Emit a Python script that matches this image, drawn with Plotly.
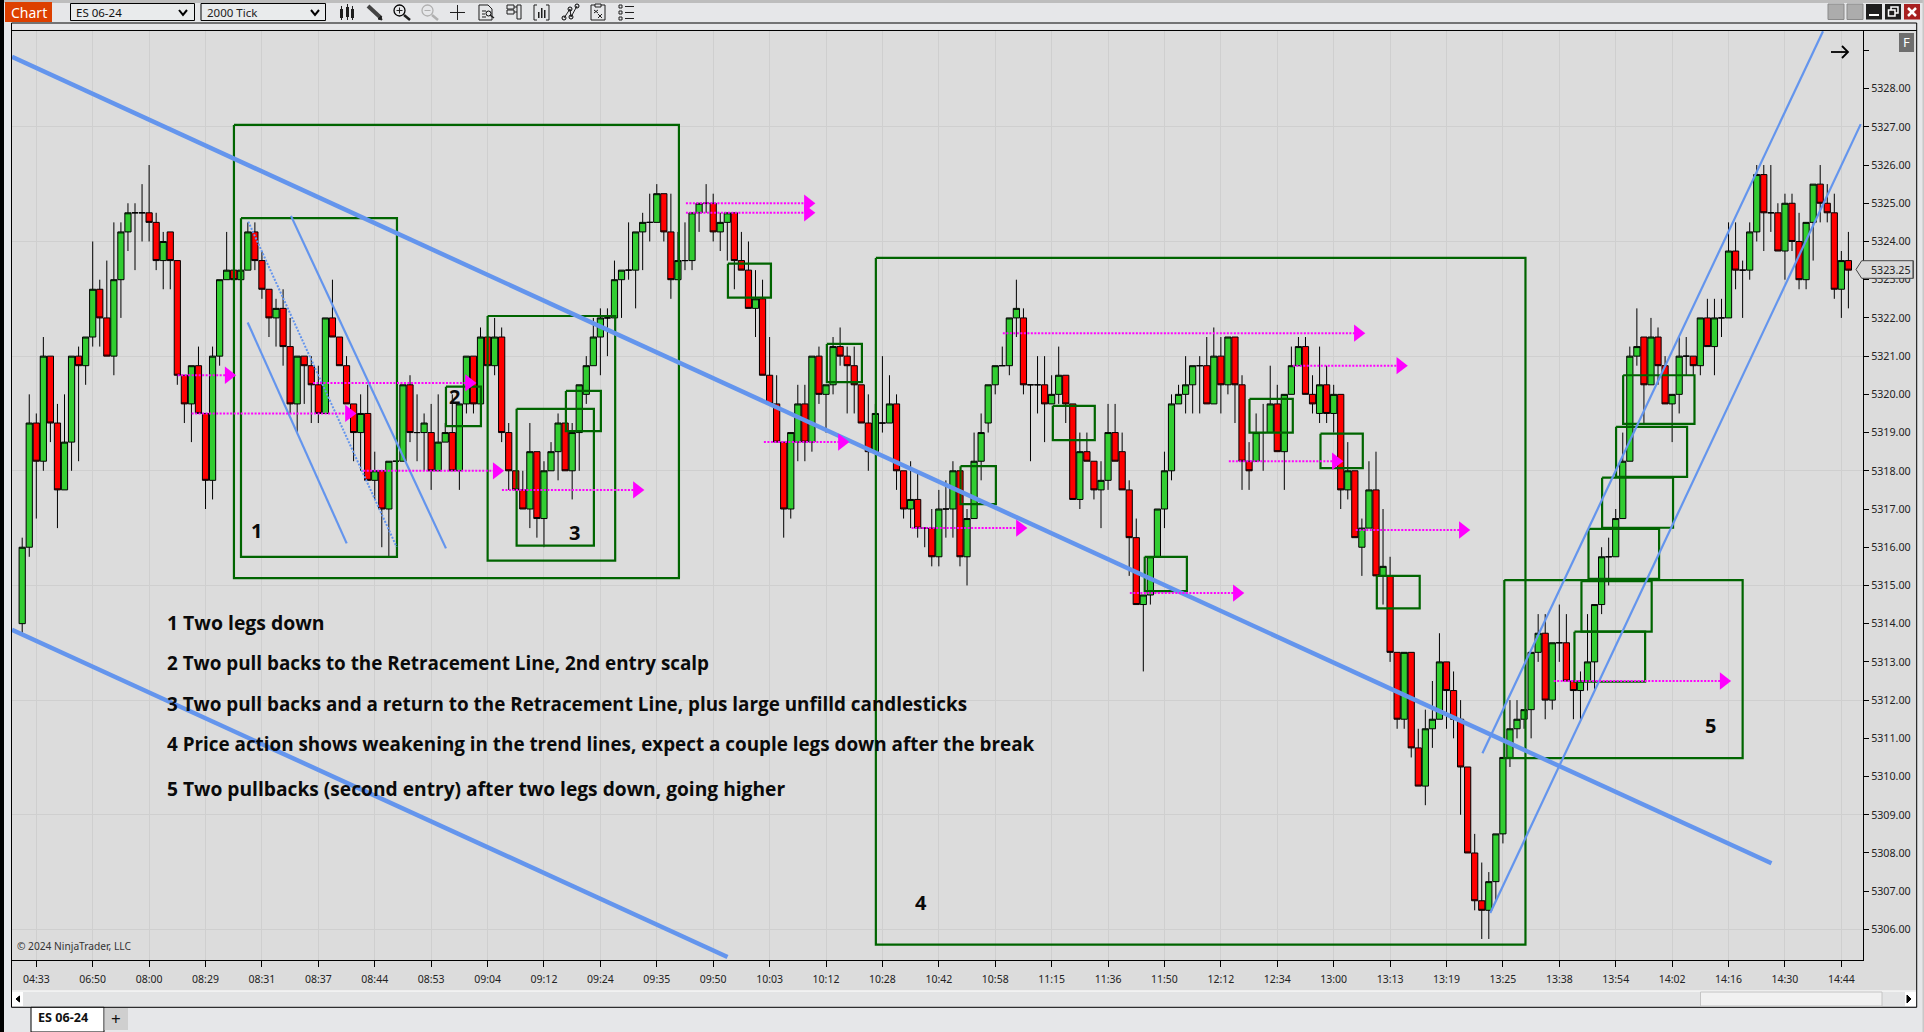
import numpy as np
import plotly.graph_objects as go

W = 1924
H = 1032
PRICE_BASE = 5300

# ES 06-24, 2000 tick bars, prices kept as offset from PRICE_BASE
bar_open = [14, 16, 19.25, 18.25, 21, 19.25, 17.5, 18.75, 21, 20.75,
            21.5, 22.75, 22, 21, 23, 24.25, 24.75, 24.75, 24.75, 24.5,
            23.5, 24.25, 23.5, 20.5, 19.75, 20.75, 19.5, 17.75, 21, 23,
            23.25, 23, 23.25, 24.25, 23.5, 22.75, 22, 22.25, 21.25, 19.75,
            21, 20.75, 20.25, 19.5, 22, 21.5, 20.75, 19.75, 19, 19.5,
            17.75, 18, 17, 18.25, 18.25, 20.25, 19, 19, 19, 18,
            18.75, 19, 18, 19.75, 21, 19.75, 21.5, 20.75, 21.5, 19,
            18, 17.5, 17, 18.5, 16.75, 18, 18.5, 19.25, 18, 19,
            20, 20.75, 21.5, 22, 22, 23, 23.25, 23.25, 24.25, 24.5,
            24.5, 25.25, 24.25, 23, 23.5, 23.5, 24.75, 25, 25, 24.25,
            24.5, 24.75, 23.5, 23.25, 22.25, 22.5, 20.5, 19.75, 18.75, 17,
            18.75, 19.75, 18.75, 21, 20, 20.25, 21.25, 21, 20.75, 20.25,
            19.25, 18.5, 19.25, 19.25, 19.75, 18, 17, 17.25, 16.5, 16.5,
            15.75, 17, 17, 18, 15.75, 16.75, 18.25, 19.25, 20.25, 20.75,
            20.75, 22, 22, 20.25, 20.25, 20.25, 19.75, 20, 20.5, 19.75,
            17.25, 18.5, 18.25, 17.5, 17.75, 19, 18.5, 17.5, 16.25, 14.5,
            14.75, 15.75, 17, 18, 19.75, 20, 20.25, 20.75, 20.75, 19.75,
            21, 20.25, 21.5, 20.25, 18.25, 18.25, 19, 19, 19.75, 18.5,
            20, 20.75, 21.25, 20, 19.5, 20.25, 19.5, 20, 17.5, 18,
            16, 16.5, 17.5, 15.25, 15.25, 13.25, 11.5, 13.25, 10.75, 9.75,
            11.25, 11.5, 13, 12.25, 11.5, 10.25, 8, 6.75, 6.5, 7.25,
            8.5, 10.5, 11.25, 11.5, 11.75, 13.25, 13.75, 12, 13.5, 13.5,
            12.5, 12.25, 12.5, 13, 14.5, 15.75, 15.75, 16.75, 18.25, 21,
            21.5, 20.25, 21.5, 20.75, 19.75, 20, 21, 21, 20.75, 22,
            21.25, 22, 22, 23.75, 23.25, 23.25, 24.25, 25.75, 24.75, 24.75,
            23.75, 25, 24, 23, 24.5, 25.5, 25, 24.75, 22.75, 23.5]
bar_high = [16.25, 20, 19.5, 21.5, 21, 19.75, 20, 21, 21.25, 21.5,
            24, 23, 23.5, 24.5, 24.5, 25, 25, 25.5, 26, 24.75,
            24.25, 24.25, 23.5, 20.5, 20.75, 21.25, 19.5, 21.25, 23, 24.25,
            23.25, 23.25, 24.5, 24.5, 23.75, 22.75, 22.5, 22.75, 22, 21,
            21, 21, 20.75, 22, 23, 21.5, 21, 19.75, 20, 20.25,
            18.5, 18, 18.25, 18.25, 20.25, 20.5, 20, 19.5, 19.75, 20,
            19.25, 20, 19.75, 21, 21, 21.75, 21.5, 22, 21.75, 19.25,
            18, 18, 19.25, 18.5, 18.25, 18.75, 19.5, 19.25, 19.25, 20.25,
            21, 22, 22.25, 22.25, 23.5, 23.25, 24.5, 24.25, 24.75, 25.25,
            25.5, 25.25, 25.25, 24.25, 24.5, 24.75, 25, 25.5, 25.25, 24.75,
            24.75, 24.75, 24.25, 24, 23.25, 23, 21.5, 20.5, 18.75, 19,
            20.25, 20.25, 21, 21.25, 20.25, 21.5, 21.75, 21.25, 21.25, 20.25,
            20, 19.75, 21, 20.5, 20, 18, 18.25, 18, 16.5, 17,
            17.5, 17.75, 18.25, 18, 17, 19, 19.5, 20.25, 20.75, 21.25,
            22, 23, 22.25, 20.25, 21, 21, 20.5, 21.25, 20.5, 19.75,
            19, 19, 18.25, 18.25, 19.75, 19.75, 19, 17.75, 16.75, 14.75,
            15.75, 17, 18.5, 20, 20.25, 21, 20.75, 21, 21.5, 21.75,
            21.5, 21.5, 21.5, 20.5, 18.75, 19.5, 19.75, 20.75, 20.25, 20,
            21.25, 21.5, 21.5, 20.5, 21.25, 20.75, 20.25, 20, 18.75, 18,
            16.75, 18.25, 18.5, 17, 15.75, 13.25, 13.25, 13.25, 11.25, 11.75,
            12.5, 13.75, 13, 12.75, 12, 10.25, 8.5, 7.75, 7.5, 8.5,
            10.5, 12, 12, 11.75, 13.25, 14.25, 14.25, 13.5, 14.5, 14.25,
            12.5, 12.75, 14.25, 14.5, 16, 16.25, 17, 19, 21.25, 22.25,
            21.5, 22, 21.75, 21, 20, 21.5, 21.5, 21, 22, 22.5,
            22.5, 22.5, 24.5, 24.5, 23.5, 24.5, 26, 26, 26, 25,
            25.25, 25.25, 24.75, 24.5, 25.5, 26, 25.5, 25.25, 23.75, 24.25]
bar_low = [13.75, 15.75, 16.75, 18, 18.75, 16.5, 17.5, 18, 18.25, 20.25,
           21.25, 21.25, 21, 20.5, 22, 23.75, 23.25, 24, 24, 23.25,
           22.75, 22.75, 20.25, 19.25, 18.75, 19.5, 17, 17.25, 20.75, 23,
           23, 23, 23.25, 23.25, 22.5, 21.5, 21.25, 20.75, 19.5, 19,
           19.75, 19.25, 19.25, 19.5, 21.5, 20.75, 19.75, 18.25, 18, 17.75,
           17.25, 16, 15.75, 18.25, 18.25, 18.75, 18.25, 18, 17.5, 18,
           18.75, 18, 17.5, 19.5, 19.5, 19.75, 20.75, 20.5, 18.75, 17.5,
           17.5, 17, 16.5, 16.25, 16, 18, 17.75, 18, 17.25, 18,
           19.75, 20.75, 20.5, 21, 22, 22, 23, 22.25, 23.25, 24,
           24.5, 24, 22.5, 23, 23.25, 23.25, 24.25, 24.75, 24, 23.75,
           23.5, 22.75, 23.25, 22.25, 21.5, 20.5, 19.75, 18.75, 16.25, 16.75,
           18.25, 18.25, 18.5, 19.75, 19, 20, 20.75, 19.5, 19.5, 19.25,
           18, 18.5, 19, 19.25, 17.5, 16.75, 16.5, 16.25, 16, 15.5,
           15.5, 16.25, 16.25, 15.5, 15, 16.75, 17.75, 19, 20, 20.75,
           20.5, 21.5, 20, 18.25, 19.5, 18.75, 19.75, 19.75, 19.25, 17.25,
           17, 18.25, 17.25, 16.5, 17.5, 18.25, 17.5, 15.25, 14.5, 12.75,
           14.5, 15.75, 16.5, 17.75, 19.75, 19.5, 19.5, 19.5, 19.75, 19.75,
           19.5, 20, 19.25, 17.5, 17.5, 18.25, 18, 19, 18.5, 17.5,
           20, 20.75, 20, 19.5, 19.25, 19.25, 19, 17, 17.25, 16.25,
           15.25, 16.5, 15.25, 14.5, 13, 11.25, 11.25, 10.5, 9.75, 9.25,
           10.75, 11.5, 11.25, 11, 9, 8, 6.5, 5.75, 5.75, 6.75,
           8.25, 10.25, 11, 11.25, 11, 13, 11.5, 11.75, 13, 12.5,
           11.5, 11.5, 12.25, 12.25, 14.25, 15, 15.75, 16.75, 18.25, 20.75,
           19.25, 20.25, 20.25, 19.75, 18.75, 19.5, 20.5, 20.5, 20.5, 21.25,
           20.5, 21.5, 22, 22.75, 22, 23, 24, 23.75, 24.25, 23.75,
           23, 23.75, 22.75, 22.75, 23.5, 24.5, 24.5, 22.5, 22, 22.25]
bar_close = [16, 19.25, 18.25, 21, 19.25, 17.5, 18.75, 21, 20.75, 21.5,
             22.75, 22, 21, 23, 24.25, 24.75, 24.75, 24.75, 24.5, 23.5,
             24, 23.5, 20.5, 19.75, 20.75, 19.5, 17.75, 21, 23, 23.25,
             23, 23.25, 24.25, 23.5, 22.75, 22, 22.25, 21.25, 19.75, 21,
             20.75, 20.25, 19.5, 22, 21.5, 20.75, 19.75, 19, 19.5, 17.75,
             18, 17, 18.25, 18.25, 20.25, 19, 19, 19.25, 18, 18.75,
             19, 18, 19.75, 21, 19.75, 21.5, 20.75, 21.5, 19, 18,
             17.5, 17, 18.5, 16.75, 18, 18.5, 19.25, 18, 19, 20.25,
             20.75, 21.5, 22, 22, 23, 23.25, 23.25, 24.25, 24.5, 24.5,
             25.25, 24.25, 23, 23.5, 23.5, 24.75, 25, 25, 24.25, 24.5,
             24.75, 23.5, 23.25, 22.25, 22.5, 20.5, 19.75, 18.75, 17, 19,
             19.75, 18.75, 21, 20, 20.25, 21.25, 21, 20.75, 20.25, 19.25,
             18.5, 19.5, 19.25, 19.75, 18, 17, 17.25, 16.5, 16.5, 15.75,
             17, 17, 18, 15.75, 16.75, 18.25, 19, 20.25, 20.75, 20.75,
             22, 22.25, 20.25, 20.25, 20.25, 19.75, 20, 20.5, 19.75, 17.25,
             18.5, 18.25, 17.5, 17.75, 19, 18.25, 17.5, 16.25, 14.5, 14.75,
             15.75, 17, 18, 19.75, 20, 20.25, 20.75, 20.75, 19.75, 21,
             20.25, 21.5, 20.25, 18.25, 18, 19, 19, 19.75, 18.5, 20,
             20.75, 21.25, 20, 19.75, 20.25, 19.5, 20, 17.5, 18, 16.25,
             16.5, 17.5, 15.25, 15.5, 13.25, 11.5, 13.25, 10.75, 9.75, 11.25,
             11.5, 13, 12.25, 11.5, 10.25, 8, 6.75, 6.5, 7.25, 8.5,
             10.5, 11.25, 11.5, 11.75, 13.25, 13.75, 12, 13.5, 13.5, 12.5,
             12.25, 12.5, 13, 14.5, 15.75, 15.75, 16.75, 18.25, 21, 21.25,
             20.25, 21.5, 20.75, 19.75, 20, 21, 21, 20.75, 22, 21.25,
             22, 22, 23.75, 23.25, 23.25, 24.25, 25.75, 24.75, 24.75, 23.75,
             25, 24, 23, 24.5, 25.5, 25, 24.75, 22.75, 23.5, 23.25]

time_labels = ["04:33", "06:50", "08:00", "08:29", "08:31", "08:37", "08:44", "08:53", "09:04",
               "09:12", "09:24", "09:35", "09:50", "10:03", "10:12", "10:28", "10:42", "10:58",
               "11:15", "11:36", "11:50", "12:12", "12:34", "13:00", "13:13", "13:19", "13:25",
               "13:38", "13:54", "14:02", "14:16", "14:30", "14:44"]
time_bars = [2 + 8 * i for i in range(len(time_labels))]
price_ticks = list(range(5306, 5330))
price_labels = ["%.2f" % p if p < 5329 else "" for p in price_ticks]
grid_prices = list(range(5306, 5330, 3))
last_price = 5323.25

# drawing objects, in bar index / price
# green boxes: first bar, last bar, top price, bottom price
box_bar0 = [30.03, 31.03, 60.1, 66.01, 70.12, 77.11, 100.09, 114.12, 121.07, 133.08, 146.17,
            159.2, 174.06, 184.13, 192.12, 210.2, 221.14, 220.15, 222.14, 224.07, 226.05, 227.05]
box_bar1 = [93.14, 53.15, 65.06, 84.1, 81.08, 82.07, 106.19, 119.09, 213.2, 138.09, 152.12,
            165.18, 180.2, 190.13, 198.2, 244.0, 231.1, 230.17, 232.15, 234.13, 236.12, 237.17]
box_top = [5327.05, 5324.61, 5320.2, 5322.05, 5319.62, 5320.09, 5323.42, 5321.32, 5323.57, 5318.12, 5319.7,
           5315.75, 5319.88, 5318.97, 5315.25, 5315.14, 5315.11, 5313.79, 5316.48, 5317.82, 5319.15, 5320.5]
box_bottom = [5315.19, 5315.75, 5319.17, 5315.65, 5316.04, 5319.04, 5322.53, 5320.32, 5305.6, 5317.13, 5318.8,
              5314.85, 5319.0, 5318.07, 5314.4, 5310.48, 5313.79, 5312.48, 5315.17, 5316.51, 5317.84, 5319.23]

# magenta arrows: start bar, end bar, price
arrow_bar0 = [22.05, 24.03, 41.24, 48.37, 68.04, 94.13, 94.13, 105.19, 126.14, 139.08, 180.2, 157.09, 171.13, 189.13, 217.2]
arrow_bar1 = [29.28, 46.34, 63.36, 67.29, 87.18, 111.43, 111.43, 116.25, 141.5, 189.42, 195.45, 172.26, 186.3, 204.31, 241.3]
arrow_price = [5320.5, 5319.5, 5320.3, 5318, 5317.5, 5325, 5324.75, 5318.75, 5316.5, 5321.6, 5320.75, 5314.8, 5318.25, 5316.45, 5312.5]

# trend lines: start bar, start price, end bar, end price
thick_lines = [(-1.45, 5328.83, 248.09, 5307.73), (-1.45, 5313.84, 100.03, 5305.28)]
thin_lines = [(31.98, 5321.88, 46.02, 5316.1), (38.12, 5324.67, 60.1, 5315.97),
              (207.1, 5310.61, 255.4, 5329.5), (208.2, 5306.43, 260.75, 5327.07)]
dotted_lines = [(32.06, 5324.52, 53.1, 5316.01)]

note_texts = ["1 Two legs down",
              "2 Two pull backs to the Retracement Line, 2nd entry scalp",
              "3 Two pull backs and a return to the Retracement Line, plus large unfilld candlesticks",
              "4 Price action shows weakening in the trend lines, expect a couple legs down after the break",
              "5 Two pullbacks (second entry) after two legs down, going higher"]
box_numbers = ["1", "2", "3", "4", "5"]


def px(x):
    return x / W


def py(y):
    return 1 - y / H


def rect(x0, y0, x1, y1, fill="rgba(0,0,0,0)", line="rgba(0,0,0,0)", lw=1, layer="above"):
    return dict(type="rect", xref="paper", yref="paper", x0=px(x0), x1=px(x1), y0=py(y0), y1=py(y1),
                fillcolor=fill, line=dict(color=line, width=lw), layer=layer)


def ring(x0, y0, x1, y1, line="black", lw=1.3):
    shape = rect(x0, y0, x1, y1, line=line, lw=lw)
    shape["type"] = "circle"
    return shape


def poly(points, line="black", lw=1.0, fill=None, close=False):
    d = "M" + " L".join("%.5f,%.5f" % (px(a), py(b)) for a, b in points)
    if close:
        d += " Z"
    return dict(type="path", xref="paper", yref="paper", path=d, layer="above",
                fillcolor=fill if fill else "rgba(0,0,0,0)", line=dict(color=line, width=lw))


def label(x, y, text, size=11, color="#1a1a1a", family="Noto Sans", anchor="left"):
    return dict(xref="paper", yref="paper", x=px(x), y=py(y), text=text, showarrow=False,
                xanchor=anchor, yanchor="middle", font=dict(family=family, size=size, color=color),
                borderpad=0, borderwidth=0)


fig = go.Figure()

bars = list(range(len(bar_open)))
fig.add_trace(go.Candlestick(
    x=bars,
    open=np.array(bar_open) + PRICE_BASE,
    high=np.array(bar_high) + PRICE_BASE,
    low=np.array(bar_low) + PRICE_BASE,
    close=np.array(bar_close) + PRICE_BASE,
    increasing=dict(fillcolor="#32CD32", line=dict(color="black", width=1)),
    decreasing=dict(fillcolor="#FF0000", line=dict(color="black", width=1)),
    whiskerwidth=0,
    hoverinfo="skip",
    showlegend=False,
))

for i in range(len(box_bar0)):
    fig.add_trace(go.Scatter(
        x=[box_bar0[i], box_bar1[i], box_bar1[i], box_bar0[i], box_bar0[i]],
        y=[box_top[i], box_top[i], box_bottom[i], box_bottom[i], box_top[i]],
        mode="lines", line=dict(color="#006400", width=2.2), hoverinfo="skip", showlegend=False))

for seg in thick_lines:
    fig.add_trace(go.Scatter(x=[seg[0], seg[2]], y=[seg[1], seg[3]], mode="lines",
                             line=dict(color="#6495ED", width=4.5), hoverinfo="skip", showlegend=False))
for seg in thin_lines:
    fig.add_trace(go.Scatter(x=[seg[0], seg[2]], y=[seg[1], seg[3]], mode="lines",
                             line=dict(color="#6495ED", width=2.2), hoverinfo="skip", showlegend=False))
for seg in dotted_lines:
    fig.add_trace(go.Scatter(x=[seg[0], seg[2]], y=[seg[1], seg[3]], mode="lines",
                             line=dict(color="#6495ED", width=2, dash="2px,1.5px"), hoverinfo="skip", showlegend=False))

for i in range(len(arrow_price)):
    fig.add_trace(go.Scatter(x=[arrow_bar0[i], arrow_bar1[i]], y=[arrow_price[i], arrow_price[i]], mode="lines",
                             line=dict(color="#FF00FF", width=2, dash="2px,1.5px"), hoverinfo="skip", showlegend=False))
fig.add_trace(go.Scatter(x=arrow_bar1, y=arrow_price, mode="markers",
                         marker=dict(symbol="triangle-right", color="#FF00FF", size=15), hoverinfo="skip",
                         showlegend=False))

shapes = []
annotations = []

# window frame
shapes.append(rect(0, 0, W, 3, fill="#BDBDBD"))
shapes.append(rect(0, 0, 4, H, fill="black"))
shapes.append(rect(1922.5, 0, W, H, fill="#C8C8C8"))
# space right of the plot and under it, kept under the axis labels
shapes.append(rect(1863, 30, 1917, 991, fill="#DCDCDC", layer="below"))
shapes.append(rect(12, 960, 1917, 991, fill="#DCDCDC", layer="below"))
shapes.append(rect(12, 991, 1917, 1007, fill="#E3E4E5"))
shapes.append(rect(12, 990.5, 1917, 991.5, fill="white"))
shapes.append(poly([(11.5, 23), (1916.7, 23), (1916.7, 1007.3), (11.5, 1007.3)], close=True, lw=1))
shapes.append(poly([(11.5, 30.5), (1916.7, 30.5)], lw=1))

# top toolbar
shapes.append(rect(5, 2, 52, 22, fill="#DD4000"))
annotations.append(label(11, 12, "Chart", size=14, color="white"))
shapes.append(rect(70.5, 3.5, 194.5, 20.5, fill="#E9EBEC", line="black", lw=1))
annotations.append(label(76, 12, "ES 06-24", size=11.5, color="#111111"))
shapes.append(poly([(179, 10), (183, 15), (187, 10)], lw=2))
shapes.append(rect(201, 3.5, 325.5, 20.5, fill="#E9EBEC", line="black", lw=1))
annotations.append(label(207, 12, "2000 Tick", size=11.5, color="#222222"))
shapes.append(poly([(311, 10), (315, 15), (319, 10)], lw=2))

# toolbar icons
ic = "#1e1e1e"
shapes += [rect(340, 9, 343, 18, fill=ic), rect(346, 7, 349, 17, fill=ic), rect(351, 9, 354, 18, fill=ic),
           poly([(341.5, 6), (341.5, 20), ], line=ic), poly([(347.5, 4), (347.5, 20)], line=ic),
           poly([(352.5, 6), (352.5, 20)], line=ic)]
shapes += [poly([(368, 6), (381, 18)], line="#444444", lw=4), poly([(378, 19), (382, 20), (381, 16)], line=ic, fill=ic, close=True)]
shapes += [ring(394, 5, 405, 16), poly([(396.5, 10.5), (402.5, 10.5)], line=ic), poly([(399.5, 7.5), (399.5, 13.5)], line=ic),
           poly([(404, 15), (410, 20)], line=ic, lw=2.5)]
shapes += [ring(422, 5, 433, 16, line="#B0B0B0"), poly([(424.5, 10.5), (430.5, 10.5)], line="#B0B0B0"),
           poly([(432, 15), (438, 20)], line="#B0B0B0", lw=2.5)]
shapes += [poly([(450, 12.5), (465, 12.5)], line=ic), poly([(457.5, 5), (457.5, 20)], line=ic)]
shapes += [poly([(479, 20), (479, 5), (488, 5), (492, 9), (492, 20)], line=ic, close=True),
           poly([(482, 11), (486, 11)], line=ic), poly([(482, 14), (485, 14)], line=ic), poly([(482, 17), (486, 17)], line=ic),
           ring(486, 11, 491, 16, lw=1), poly([(490, 15), (494, 18)], line=ic, lw=1.5)]
shapes += [rect(507, 5, 514, 9, line=ic), rect(507, 10, 514, 14, line=ic), rect(517, 5, 521, 19, line=ic),
           poly([(514, 7), (517, 7)], line=ic), poly([(514, 12), (517, 12)], line=ic)]
shapes += [poly([(537, 5), (534, 5), (534, 20), (537, 20)], line=ic), poly([(546, 5), (549, 5), (549, 20), (546, 20)], line=ic),
           rect(538, 12, 539.5, 18, fill=ic), rect(541, 8, 542.5, 18, fill=ic), rect(544, 10, 545.5, 18, fill=ic)]
shapes += [poly([(564, 18), (570, 9), (571, 17), (577, 6)], line=ic), ring(562, 16, 566, 20, lw=1), ring(568, 7, 572, 11, lw=1),
           ring(569, 15, 573, 19, lw=1), ring(575, 4, 579, 8, lw=1)]
shapes += [rect(591, 5, 605, 20, line=ic), rect(595, 4, 601, 7, fill="#E6E7E9", line=ic),
           poly([(594, 10), (598, 13)], line=ic), poly([(598, 10), (594, 13)], line=ic),
           poly([(598, 14), (602, 18)], line=ic), poly([(602, 14), (598, 18)], line=ic)]
shapes += [rect(619, 5, 622, 8, line=ic), rect(619, 11, 622, 14, line=ic), rect(619, 17, 622, 20, line=ic),
           poly([(625, 6.5), (634, 6.5)], line=ic), poly([(625, 12.5), (634, 12.5)], line=ic), poly([(625, 18.5), (634, 18.5)], line=ic)]

# window buttons
shapes.append(rect(1828, 4, 1844, 19.5, fill="#ACACAC", line="#8A8A8A"))
shapes.append(rect(1847, 4, 1863, 19.5, fill="#ACACAC", line="#8A8A8A"))
shapes.append(rect(1866, 4, 1882, 19.5, fill="#1E1E1E"))
shapes.append(rect(1869, 14, 1879, 16, fill="white"))
shapes.append(rect(1885, 4, 1901, 19.5, fill="#1E1E1E"))
shapes.append(rect(1891, 7, 1898, 13, line="white", lw=1.5))
shapes.append(rect(1888.5, 10, 1895, 16, fill="#1E1E1E", line="white", lw=1.5))
shapes.append(rect(1904, 4, 1920, 19.5, fill="#A82020"))
shapes.append(poly([(1908, 8), (1916, 16)], line="white", lw=2.5))
shapes.append(poly([(1916, 8), (1908, 16)], line="white", lw=2.5))

# chart corner furniture
shapes.append(rect(1899, 33, 1914, 52, fill="#6E6E6E"))
annotations.append(label(1906.5, 42.5, "F", size=13, color="white", anchor="center"))
shapes.append(poly([(1831, 52), (1848, 52)], lw=1.8))
shapes.append(poly([(1842, 46), (1848, 52), (1842, 58)], lw=1.8))
annotations.append(label(17, 946, "© 2024 NinjaTrader, LLC", size=10.2, color="#333333"))

# current price tag
shapes.append(poly([(1856, 269.5), (1861.7, 260.7), (1913.3, 260.7), (1913.3, 278.3), (1861.7, 278.3)],
                   line="#444444", lw=1, fill="#D8D8D8", close=True))
shapes.append(rect(1912.5, 260.7, 1914, 278.3, fill="#555555"))
annotations.append(label(1871, 270, "%.2f" % last_price, size=10.7, color="#222222"))

# bottom tab strip and scrollbar
shapes.append(rect(1700.5, 992, 1882, 1006, fill="#F1F1F1", line="#C4C4C4"))
shapes.append(rect(12, 992, 23, 1006, fill="white"))
shapes.append(poly([(19.5, 996), (16, 999), (19.5, 1002)], fill="black", close=True))
shapes.append(rect(1905, 992, 1916, 1006, fill="white"))
shapes.append(poly([(1907, 995), (1911, 999), (1907, 1003)], fill="black", close=True))
shapes.append(rect(31, 1007.3, 104, H, fill="white", line="black", lw=1))
annotations.append(label(38, 1017, "<b>ES 06-24</b>", size=12.6, color="#111111"))
shapes.append(rect(104.5, 1008, 128, 1030, fill="#CFCFCF"))
annotations.append(label(116, 1018.5, "+", size=17, color="#111111", anchor="center"))

# text written on the chart
note_y = [622, 662.5, 704, 743.5, 788]
note_size = [19.4, 18.85, 18.85, 18.85, 19.2]
for text, y, size in zip(note_texts, note_y, note_size):
    annotations.append(label(167, y, "<b>%s</b>" % text, size=size, color="#0A0A0A", family="Open Sans"))
number_xy = [(256.5, 530), (454.5, 396.7), (574.5, 532.3), (920.5, 902), (1710, 725)]
for text, (x, y) in zip(box_numbers, number_xy):
    annotations.append(label(x, y, "<b>%s</b>" % text, size=20, color="#0A0A0A", family="Open Sans", anchor="center"))

fig.update_layout(
    width=W, height=H, margin=dict(l=0, r=0, t=0, b=0, pad=0, autoexpand=False),
    paper_bgcolor="#E6E7E9", plot_bgcolor="#DCDCDC",
    boxgap=0.12, boxgroupgap=0,
    shapes=shapes, annotations=annotations, showlegend=False, hovermode=False,
    xaxis=dict(
        domain=[12 / W, 1863 / W], range=[-1.446, 261.07], rangeslider=dict(visible=False),
        tickmode="array", tickvals=time_bars, ticktext=time_labels, ticks="outside", ticklen=6,
        tickcolor="black", tickfont=dict(family="Noto Sans", size=10.5, color="#222222"),
        ticklabelstandoff=3,
        showgrid=True, gridcolor="#CFCFCF", gridwidth=1, zeroline=False,
        showline=True, mirror=True, linecolor="black", linewidth=1,
    ),
    yaxis=dict(
        domain=[1 - 960 / H, 1 - 30.5 / H], range=[5305.2, 5329.52], side="right",
        tickmode="array", tickvals=price_ticks, ticktext=price_labels, ticks="outside", ticklen=5,
        tickcolor="black", tickfont=dict(family="Noto Sans", size=10.7, color="#222222"),
        showgrid=False, zeroline=False, showline=True, mirror=True, linecolor="black", linewidth=1,
        minor=dict(tickmode="array", tickvals=grid_prices, showgrid=True, gridcolor="#CFCFCF", gridwidth=1, ticks=""),
    ),
)

# the page's default body margin would shift the whole window by 8px
fig.write_html("out.html", config={"displayModeBar": False}, post_script="document.body.style.margin = '0';")
